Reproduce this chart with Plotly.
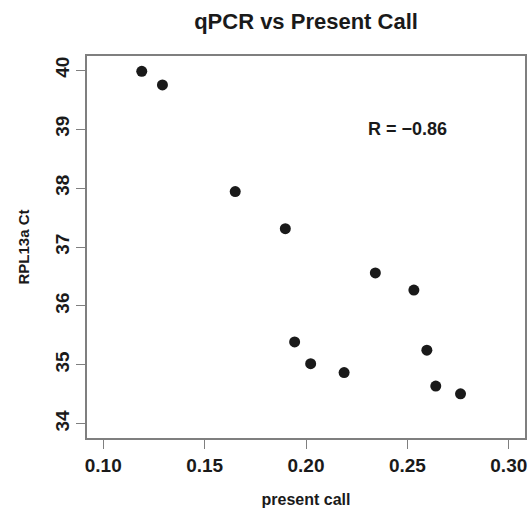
import plotly.graph_objects as go

present_call = [0.1190, 0.1292, 0.1651, 0.1898, 0.2342, 0.2532, 0.1944, 0.2023, 0.2188, 0.2596, 0.2640, 0.2762]
rpl13a_ct = [39.98, 39.75, 37.94, 37.31, 36.56, 36.27, 35.39, 35.02, 34.87, 35.25, 34.64, 34.51]

x_ticks = [0.10, 0.15, 0.20, 0.25, 0.30]
x_ticktext = ["0.10", "0.15", "0.20", "0.25", "0.30"]
y_ticks = [34, 35, 36, 37, 38, 39, 40]

title_text = "qPCR vs Present Call"
x_title = "present call"
y_title = "RPL13a Ct"
r_label = "R = \u22120.86"
r_pos = (0.25, 39.0)

FONT = "Liberation Sans, Arial, sans-serif"
INK = "#1a1a1a"
AXIS = "#7f7f7f"

W, H = 532, 517
L, R, T, B = 87, 7, 56, 79

fig = go.Figure()
fig.add_trace(go.Scatter(
    x=present_call, y=rpl13a_ct, mode="markers",
    marker=dict(size=11, color=INK, line=dict(width=0)),
    showlegend=False, hoverinfo="x+y",
))

fig.add_annotation(x=r_pos[0], y=r_pos[1], text=r_label, showarrow=False,
                   xanchor="center", yanchor="middle",
                   font=dict(family=FONT, size=18, color=INK, weight="bold"))

fig.update_layout(
    width=W, height=H,
    margin=dict(l=L, r=R, t=T, b=B, autoexpand=False),
    paper_bgcolor="white", plot_bgcolor="white",
    title=dict(text=title_text, x=(L + W - R) / 2 / W, xanchor="center",
               y=1 - 21 / H, yanchor="middle",
               font=dict(family=FONT, size=22, color=INK, weight="bold")),
    xaxis=dict(
        range=[0.092, 0.308], tickvals=x_ticks, ticktext=x_ticktext,
        showgrid=False, zeroline=False,
        showline=True, linecolor=AXIS, linewidth=1.5, mirror=True,
        ticks="outside", ticklen=9, tickwidth=1.2, tickcolor=AXIS,
        tickfont=dict(family=FONT, size=19, color=INK, weight="bold"),
        title=dict(text=x_title, standoff=19,
                   font=dict(family=FONT, size=16, color=INK, weight="bold")),
    ),
    yaxis=dict(
        range=[33.76, 40.24], tickvals=y_ticks,
        showgrid=False, zeroline=False,
        showline=True, linecolor=AXIS, linewidth=1.5, mirror=True,
        ticks="outside", ticklen=9, tickwidth=1.2, tickcolor=AXIS,
        tickangle=-90,
        tickfont=dict(family=FONT, size=19, color=INK, weight="bold"),
        title=dict(text=y_title, standoff=18,
                   font=dict(family=FONT, size=15, color=INK, weight="bold")),
    ),
)

fig.write_html("out.html", config={"displayModeBar": False},
               post_script="document.body.style.margin='0';")
